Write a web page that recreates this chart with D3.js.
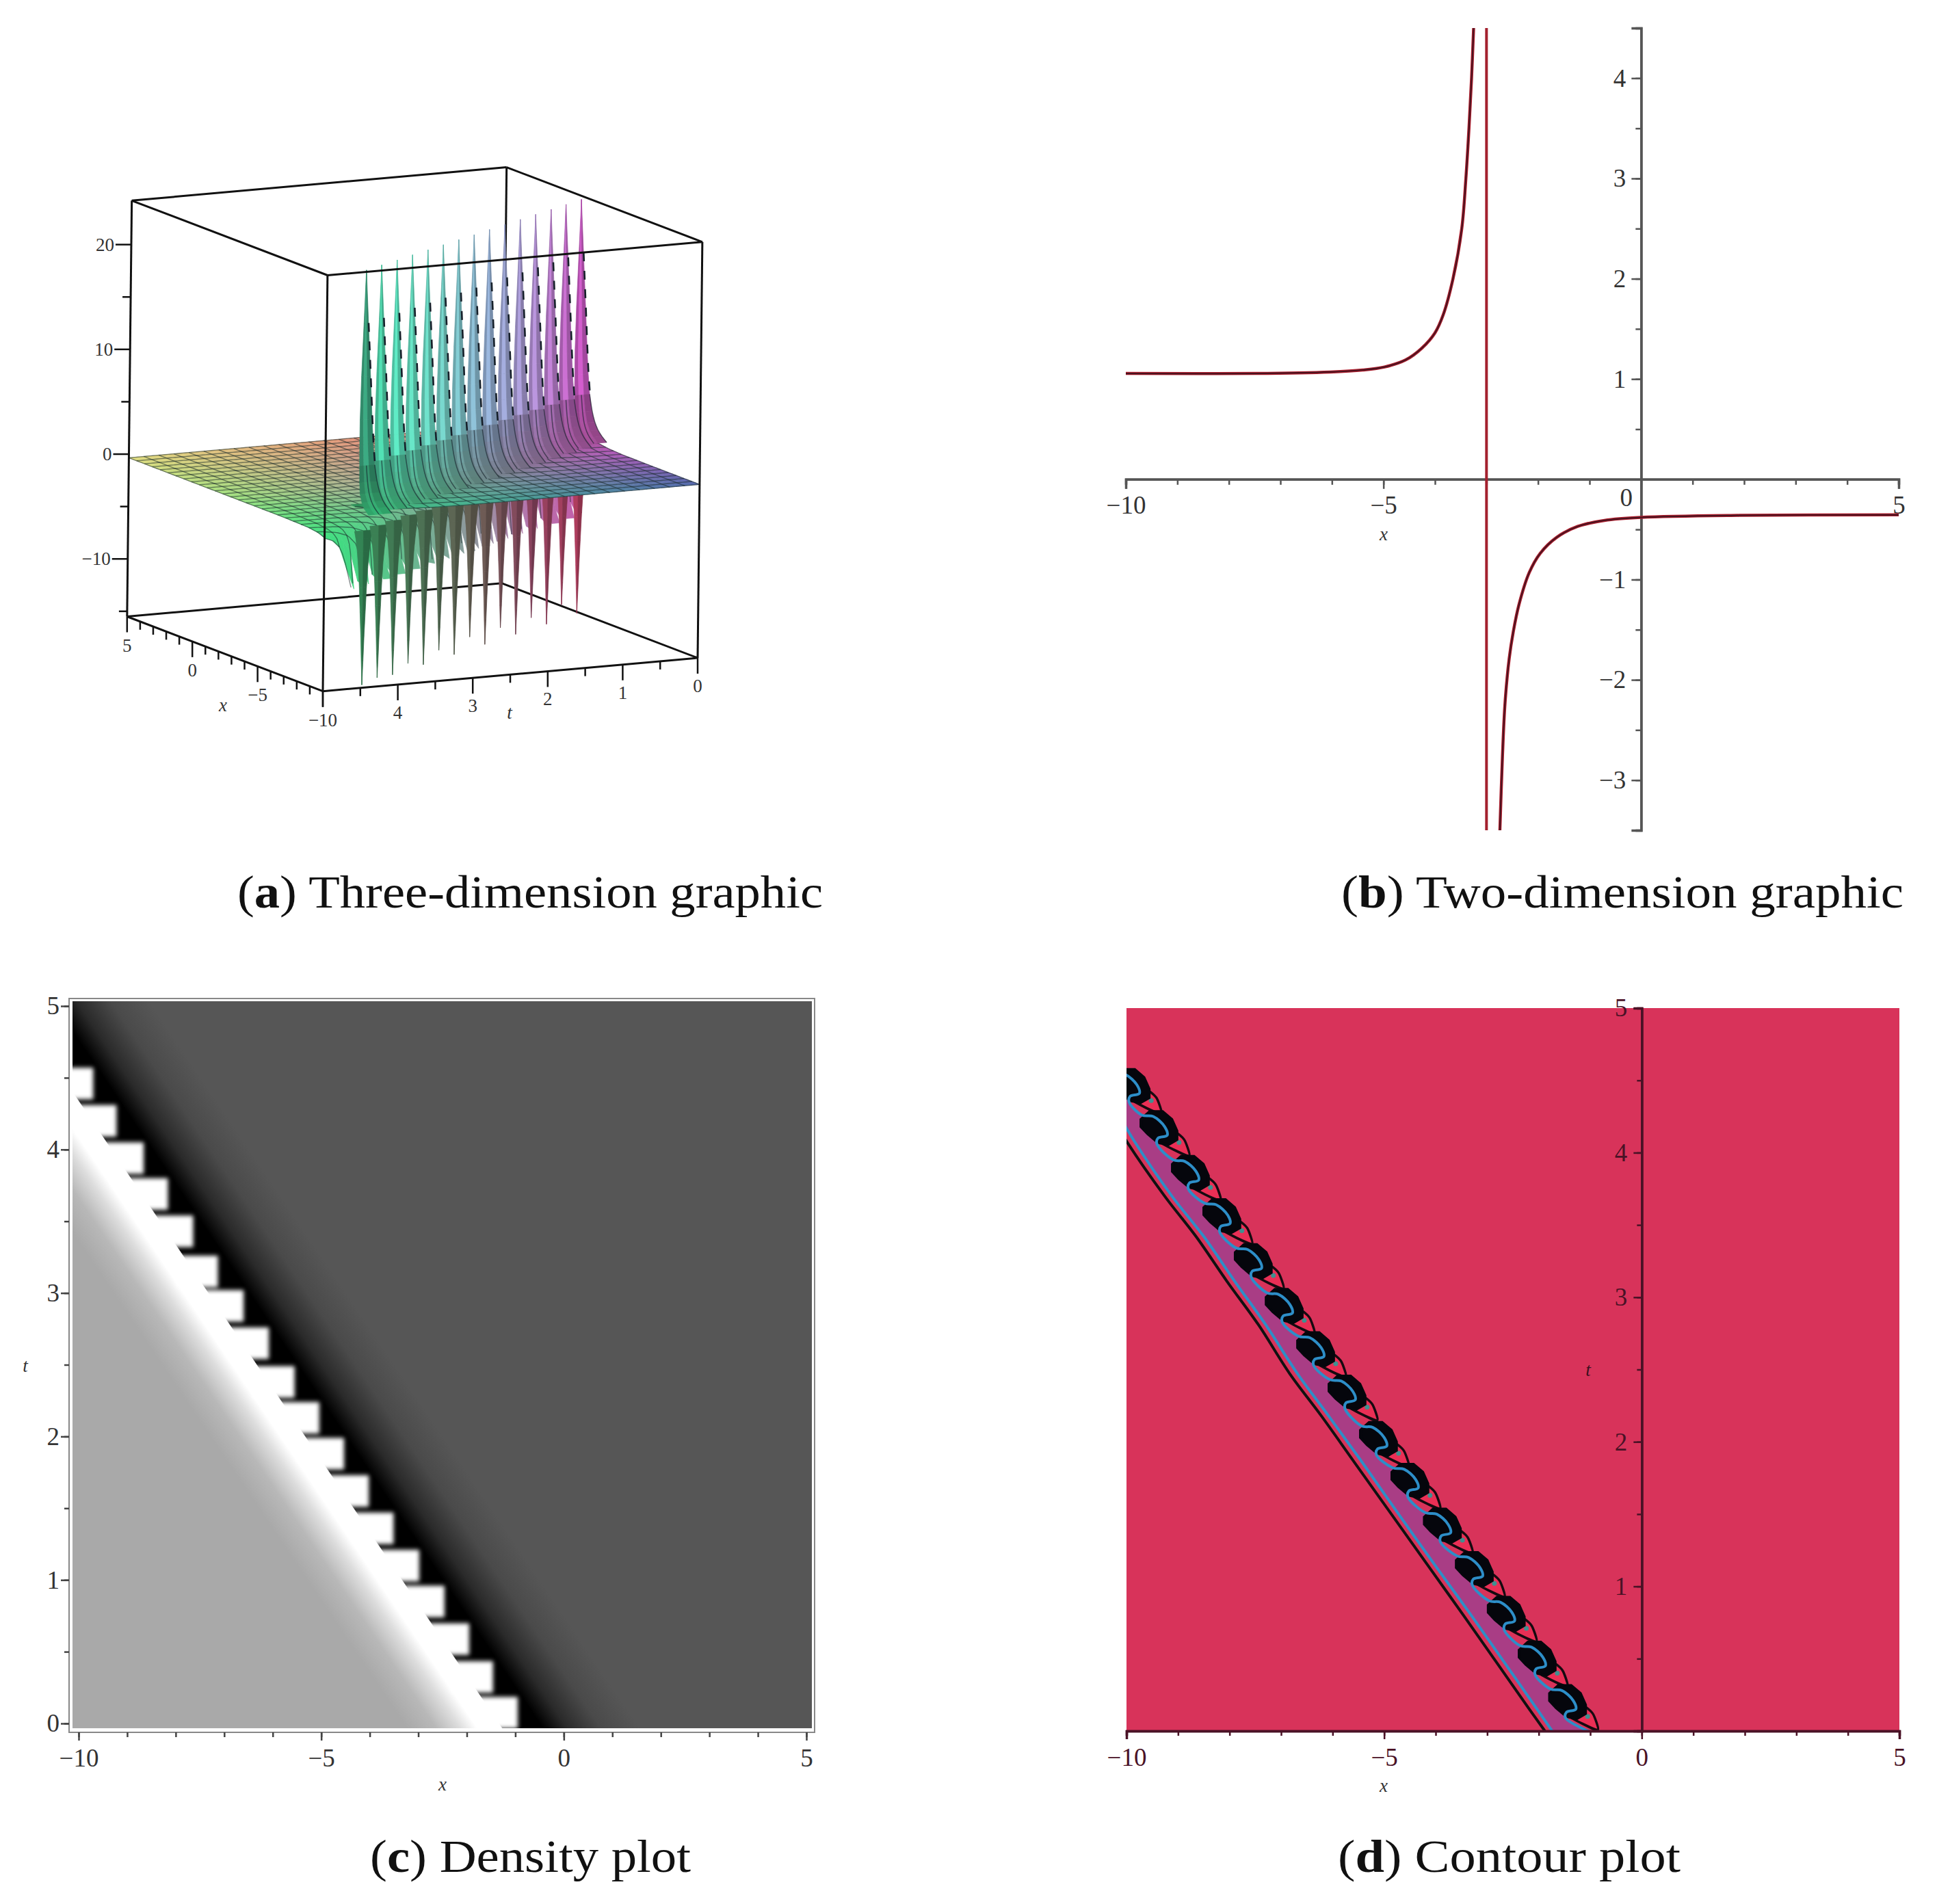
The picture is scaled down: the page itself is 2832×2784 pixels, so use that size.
<!DOCTYPE html>
<html>
<head>
<meta charset="utf-8">
<script src="https://cdn.jsdelivr.net/npm/d3@7"></script>
<style>
  html, body { margin: 0; background: #fff; }
  svg text { font-family: "Liberation Serif", serif; }
</style>
</head>
<body>
<svg id="fig" width="2832" height="2784"></svg>
<script>
const spikeT = [4.40, 4.09, 3.78, 3.47, 3.16, 2.85, 2.54, 2.23, 1.92, 1.61, 1.30, 0.99, 0.68, 0.38, 0.07];
const spikeX = [-9.54, -8.93, -8.33, -7.73, -7.13, -6.53, -5.93, -5.33, -4.72, -4.12, -3.52, -2.92, -2.32, -1.74, -1.14];
const spikeTop = [24.1, 24.1, 24.1, 24.1, 24.1, 24.1, 24.1, 24.1, 24.1, 24.1, 24.1, 24.1, 24.1, 24.1, 24.1];
const spikeBottom = [-15.5, -15.3, -15.5, -14.9, -15.5, -14.6, -15.5, -14.3, -15.5, -14.4, -15.5, -14.4, -15.5, -14.1, -15.4];
// sheet height on each side of the wave
const nearD = [0, 0.1, 0.2, 0.3, 0.5, 0.8, 1.2, 2, 3, 5, 15];
const nearZ = [1.9, 1.85, 1.8, 1.7, 1.6, 1.45, 1.3, 1.15, 1.08, 1.06, 1.06];
const farE = [0, 0.1, 0.2, 0.3, 0.5, 0.8, 1.2, 2, 4, 15];
const farZ = [-6, -4.5, -3, -2, -1.2, -0.8, -0.6, -0.45, -0.38, -0.35];
// ridge of a spike going down to the sheet
const ridgeD = [0, 0.03, 0.06, 0.1, 0.15, 0.22, 0.32, 0.45, 0.65, 0.9, 1.25];
const ridgeZ = [1, 0.79, 0.58, 0.41, 0.31, 0.23, 0.166, 0.124, 0.095, 0.075, 0.058];
const ridgeW = [0, 0.03, 0.06, 0.08, 0.09, 0.1, 0.115, 0.13, 0.14, 0.15, 0.155];
const dropF = [1, 0.85, 0.7, 0.55, 0.4, 0.28, 0.18, 0.1, 0.05];
const dropW = [0, 0.012, 0.022, 0.035, 0.048, 0.062, 0.08, 0.1, 0.12];

// panel b: curve on both sides of x = -3
const leftX = [-10, -7.49, -6.03, -5.40, -4.98, -4.57, -4.25, -4.0, -3.84, -3.65, -3.48, -3.40, -3.34, -3.29, -3.25];
const leftY = [1.055, 1.055, 1.07, 1.09, 1.12, 1.19, 1.31, 1.46, 1.64, 2, 2.5, 3, 3.5, 4, 4.5];
const rightX = [-2.74, -2.69, -2.64, -2.56, -2.48, -2.37, -2.17, -1.96, -1.64, -1.23, -0.71, 0, 1.9, 5];
const rightY = [-3.5, -2.76, -2.23, -1.79, -1.52, -1.25, -0.93, -0.74, -0.58, -0.47, -0.41, -0.38, -0.36, -0.355];
const asymptoteX = [-3];

// panel c: white steps of the density plot
const stepT = [0.075, 0.324, 0.588, 0.85, 1.10, 1.36, 1.62, 1.88, 2.13, 2.38, 2.65, 2.91, 3.15, 3.43, 3.69, 3.94, 4.20, 4.46];
const stepRight = [-0.95, -1.46, -1.95, -2.46, -2.98, -3.51, -4.02, -4.53, -5.04, -5.55, -6.08, -6.60, -7.13, -7.64, -8.16, -8.66, -9.22, -9.70];
const densityD = [-3, -2.5, -1.9, -1.4, -1.05, -0.55, -0.53, 0.3, 0.8, 1.5, 2.3, 3];
const densityGray = ['#a9a9a9', '#a9a9a9', '#b8b8b8', '#dddddd', '#ffffff', '#ffffff', '#000000', '#000000', '#2a2a2a', '#4a4a4a', '#565656', '#565656'];

// panel d: contour lines
const lowerT = [4.2, 4.08, 3.70, 3.42, 3.11, 2.81, 2.47, 2.18, 1.86, 1.5, 1.13, 0.8, 0.45, 0.15, 0];
const lowerBlackX = [-10.2, -10, -9.26, -8.65, -8.05, -7.44, -6.83, -6.22, -5.58, -4.86, -4.12, -3.46, -2.77, -2.18, -1.88];
const lowerBlueX = [-10.05, -9.85, -9.12, -8.50, -7.90, -7.30, -6.68, -6.08, -5.43, -4.72, -3.98, -3.31, -2.62, -2.03, -1.74];
const beadX = [-9.93, -9.39, -8.78, -8.17, -7.56, -6.96, -6.35, -5.74, -5.13, -4.52, -3.89, -3.27, -2.65, -2.05, -1.46];
const beadT = [4.47, 4.18, 3.87, 3.57, 3.26, 2.95, 2.65, 2.35, 2.03, 1.74, 1.43, 1.13, 0.82, 0.51, 0.21];
const blobDx = [-0.33, -0.16, 0.09, 0.27, 0.37, 0.37, 0.2, 0, -0.2, -0.33];
const blobDt = [0.05, 0.105, 0.105, 0.05, -0.03, -0.09, -0.125, -0.11, -0.05, 0];
const wiggleDx = [-0.31, -0.09, 0.13, 0.18, 0, -0.02];
const wiggleDt = [0.08, 0.07, 0, -0.06, -0.08, -0.12];
const petalDx = [0.29, 0.51, 0.61, 0.31, 0.04];
const petalDt = [-0.03, -0.09, -0.2, -0.16, -0.10];

const captions = [
  { tag: 'a', text: ' Three-dimension graphic', x: 347, y: 1327, w: 856 },
  { tag: 'b', text: ' Two-dimension graphic', x: 1961, y: 1327, w: 822 },
  { tag: 'c', text: ' Density plot', x: 541, y: 2737, w: 469 },
  { tag: 'd', text: ' Contour plot', x: 1956, y: 2737, w: 501 }
];

const svg = d3.select('#fig');
const fmt = d => d < 0 ? '\u2212' + (-d) : '' + d;
const steps = (a, b, s) => d3.range(a, b + s / 2, s);

function addAxis(maker, scale, at, majors, minors, o) {
  const g = svg.append('g').attr('transform', at);
  g.append('g').call(maker(scale).tickValues(minors).tickSize(o.minor).tickFormat(''));
  g.append('g').call(maker(scale).tickValues(majors).tickSize(o.major).tickPadding(o.pad).tickFormat(fmt));
  g.selectAll('.domain').attr('stroke', o.color).attr('stroke-width', o.domain || 0);
  g.selectAll('.tick line').attr('stroke', o.color).attr('stroke-width', 2.5);
  g.selectAll('text').attr('font-size', o.size).attr('fill', o.text || '#333').attr('font-family', 'Liberation Serif');
  return g;
}

function letter(x, y, s) {
  svg.append('text').attr('x', x).attr('y', y).attr('text-anchor', 'middle')
    .attr('font-size', 27).attr('font-style', 'italic').attr('fill', '#333').text(s);
}

// ---------- panel a ----------
const zMin = -15.5;
const xVec = [-19.08, -7.28], tVec = [-109.6, 9.74], zVec = [0.173, -15.32];
function proj(x, t, z) {
  return [
    1020 + (x + 10) * xVec[0] + t * tVec[0] + (z - zMin) * zVec[0],
    962 + (x + 10) * xVec[1] + t * tVec[1] + (z - zMin) * zVec[1]
  ];
}
const waveX = d3.scaleLinear().domain(spikeT).range(spikeX);
const nearHeight = d3.scaleLinear().domain(nearD).range(nearZ).clamp(true);
const farHeight = d3.scaleLinear().domain(farE).range(farZ).clamp(true);
const nearDark = d3.scaleLinear().domain([0, 0.5, 1.2, 2.2]).range([1.1, 0.8, 0.3, 0]).clamp(true);
const colorT0 = d3.scaleLinear().domain([-10, -3, 5]).range(['#5468ac', '#b858b8', '#e86878']);
const colorT5 = d3.scaleLinear().domain([-10, -3, 5]).range(['#40e080', '#a0e080', '#e0dc80']);
const sheetColor = (x, t) => d3.interpolateRgb(colorT0(x), colorT5(x))(t / 5);
const upColor = d3.scaleLinear().domain([0, 1, 2, 3, 4, 4.5])
  .range(['#c050b8', '#a888c8', '#88a8c8', '#68c8b8', '#50d8b0', '#2f8a68']);
const downColor = d3.scaleLinear().domain([0, 1, 2, 3, 4, 4.5])
  .range(['#a83a58', '#84405a', '#665850', '#4c6850', '#3a7850', '#2e7e50']);

const poly = d3.line();
function quad(g, pts, fill) {
  g.append('path').attr('d', poly(pts) + 'Z').attr('fill', fill).attr('stroke', fill).attr('stroke-width', 0.7);
}
const boxLine = (g, a, b) => g.append('path').attr('d', poly([proj(...a), proj(...b)]))
  .attr('stroke', '#111').attr('stroke-width', 3).attr('fill', 'none');

const zMax = 24.2;
const back = svg.append('g');
boxLine(back, [5, 5, zMax], [5, 0, zMax]);
boxLine(back, [5, 0, zMax], [-10, 0, zMax]);
boxLine(back, [5, 0, zMax], [5, 0, zMin]);
boxLine(back, [5, 5, zMin], [5, 0, zMin]);
boxLine(back, [5, 0, zMin], [-10, 0, zMin]);

// sheet height: side tells which part of the surface the vertex belongs to
function sheetZ(x, t, side) {
  const d = waveX(t) - x;
  return side > 0 ? nearHeight(Math.max(d, 0)) : farHeight(Math.max(-d, 0));
}
const meshX = steps(-10, 5, 15 / 25), meshT = steps(0, 5, 5 / 25);
const cellX = steps(-10, 5, 15 / 50), cellT = steps(0, 5, 5 / 50);
function drawSheet(side) {
  const g = svg.append('g');
  const cells = [];
  cellX.slice(0, -1).forEach((x, i) => cellT.slice(0, -1).forEach((t, j) => {
    const cx = x + 0.15, ct = t + 0.05;
    if ((waveX(ct) - cx > 0) === (side > 0)) cells.push({ x0: x, x1: cellX[i + 1], t0: t, t1: cellT[j + 1], cx, ct });
  }));
  cells.sort((a, b) => (a.cx * xVec[1] + a.ct * tVec[1]) - (b.cx * xVec[1] + b.ct * tVec[1]));
  cells.forEach(c => {
    let col = d3.color(sheetColor(c.cx, c.ct));
    if (side > 0) col = col.darker(nearDark(waveX(c.ct) - c.cx));
    quad(g, [[c.x0, c.t0], [c.x1, c.t0], [c.x1, c.t1], [c.x0, c.t1]].map(p => proj(p[0], p[1], sheetZ(p[0], p[1], side))), col.formatHex());
  });
  // mesh lines
  const path = d3.line();
  meshT.forEach(t => {
    const xs = steps(-10, 5, 0.1).filter(x => (waveX(t) - x >= 0) === (side > 0));
    if (xs.length > 1) g.append('path').attr('d', path(xs.map(x => proj(x, t, sheetZ(x, t, side)))))
      .attr('fill', 'none').attr('stroke', '#1a2a2a').attr('stroke-opacity', 0.55).attr('stroke-width', 1.4);
  });
  meshX.forEach(x => {
    const ts = steps(0, 5, 0.04).filter(t => (waveX(t) - x >= 0) === (side > 0));
    if (ts.length > 1) g.append('path').attr('d', path(ts.map(t => proj(x, t, sheetZ(x, t, side)))))
      .attr('fill', 'none').attr('stroke', '#1a2a2a').attr('stroke-opacity', 0.55).attr('stroke-width', 1.4);
  });
}

drawSheet(-1);

// downward needles
const downs = svg.append('g');
spikeT.forEach((t, i) => {
  const x = spikeX[i], tip = spikeBottom[i], col = d3.color(downColor(t));
  for (let k = 0; k < dropF.length - 1; k++) {
    const z0 = tip * dropF[k], z1 = tip * dropF[k + 1], w0 = dropW[k], w1 = dropW[k + 1];
    quad(downs, [proj(x, t + w0, z0), proj(x, t, z0), proj(x, t, z1), proj(x, t + w1, z1)], col.brighter(0.15).formatHex());
    quad(downs, [proj(x, t, z0), proj(x, t - w0, z0), proj(x, t - w1, z1), proj(x, t, z1)], col.darker(0.45).formatHex());
  }
});

drawSheet(1);

// upward needles, right to left so the nearest is on top
const ups = svg.append('g');
const lateral = [1, 0.45, -0.25, -1];
const lateralShade = [-0.3, 0.3, -0.45];
d3.range(spikeT.length - 1, -1, -1).forEach(i => {
  const t = spikeT[i], x = spikeX[i], top = spikeTop[i];
  const base = d3.color(upColor(t));
  for (let k = 0; k < ridgeD.length - 1; k++) {
    // toward the foot the ridge takes the colour of the sheet
    const blend = k >= 5 ? (k - 4) / 5.5 : 0;
    const mixed = d3.color(d3.interpolateRgb(base, sheetColor(x - ridgeD[k], t))(blend));
    const dark = k >= 5 ? 0.5 : 0;
    lateral.slice(0, -1).forEach((f, s) => {
      const a = lateral[s], b = lateral[s + 1];
      const pt = (n, m) => proj(x - ridgeD[n], t + ridgeW[n] * m, top * ridgeZ[n]);
      const c = lateralShade[s] * (1 - blend * 0.7) - dark;
      const col = c >= 0 ? mixed.brighter(c) : mixed.darker(-c);
      quad(ups, [pt(k, a), pt(k, b), pt(k + 1, b), pt(k + 1, a)], col.formatHex());
    });
  }
  // the dashed mesh line on the right flank, and the curved one at the foot
  const flank = d3.range(1, 6).map(n => proj(x - ridgeD[n], t - ridgeW[n] * 1.05, top * ridgeZ[n]));
  ups.append('path').attr('d', poly(flank)).attr('fill', 'none').attr('stroke', '#16202a')
    .attr('stroke-width', 2.6).attr('stroke-dasharray', '13 14');
  [-1, 0.1].forEach(m => {
    const foot = d3.range(5, ridgeD.length).map(n => proj(x - ridgeD[n], t + ridgeW[n] * m, top * ridgeZ[n]));
    ups.append('path').attr('d', d3.line().curve(d3.curveBasis)(foot)).attr('fill', 'none')
      .attr('stroke', '#16202a').attr('stroke-opacity', 0.6).attr('stroke-width', 1.5);
  });
});

const front = svg.append('g');
boxLine(front, [5, 5, zMax], [-10, 5, zMax]);
boxLine(front, [-10, 5, zMax], [-10, 0, zMax]);
boxLine(front, [5, 5, zMax], [5, 5, zMin]);
boxLine(front, [-10, 0, zMax], [-10, 0, zMin]);
boxLine(front, [-10, 5, zMax], [-10, 5, zMin]);
boxLine(front, [5, 5, zMin], [-10, 5, zMin]);
boxLine(front, [-10, 5, zMin], [-10, 0, zMin]);

// ticks of the box, all drawn through the projection
const tickG = svg.append('g').attr('stroke', '#111').attr('stroke-width', 2.5);
const labelA = (p, s, anchor) => svg.append('text').attr('x', p[0]).attr('y', p[1]).attr('font-size', 27)
  .attr('text-anchor', anchor || 'middle').attr('fill', '#333').text(s);
steps(-10, 5, 1).forEach(x => {
  const p = proj(x, 5, zMin), major = x % 5 === 0;
  tickG.append('line').attr('x1', p[0]).attr('y1', p[1]).attr('x2', p[0]).attr('y2', p[1] + (major ? 23 : 12));
  if (major) labelA([p[0], p[1] + 51], fmt(x));
});
steps(0, 5, 0.5).forEach(t => {
  const p = proj(-10, t, zMin), major = t % 1 === 0;
  tickG.append('line').attr('x1', p[0]).attr('y1', p[1]).attr('x2', p[0]).attr('y2', p[1] + (major ? 23 : 12));
  if (major && t < 5) labelA([p[0], p[1] + 50], fmt(t));
});
steps(-15, 20, 5).forEach(z => {
  const p = proj(5, 5, z), major = z % 10 === 0;
  tickG.append('line').attr('x1', p[0]).attr('y1', p[1]).attr('x2', p[0] - (major ? 23 : 12)).attr('y2', p[1]);
  if (major) labelA([p[0] - 25, p[1] + 9], fmt(z), 'end');
});
letter(326, 1040, 'x');
letter(745, 1051, 't');

// ---------- panel b ----------
const xB = d3.scaleLinear().domain([-10, 5]).range([1646, 2776]);
const yB = d3.scaleLinear().domain([-3.5, 4.5]).range([1214, 41]);
const styleB = { major: 14, minor: 8, pad: 8, color: '#555', domain: 3.5, size: 37 };
const xAxisB = addAxis(d3.axisBottom, xB, `translate(0,${yB(0)})`, [-10, -5, 0, 5], steps(-10, 5, 1), { ...styleB, pad: 10 });
xAxisB.selectAll('.tick text').filter(d => d === 0).attr('dx', -22).attr('dy', '0.4em');
addAxis(d3.axisLeft, yB, `translate(${xB(0)},0)`, [-3, -2, -1, 1, 2, 3, 4], steps(-3.5, 4.5, 0.5), styleB);
letter(2023, 790, 'x');

svg.selectAll('.asym').data(asymptoteX).enter().append('line').attr('class', 'asym')
  .attr('x1', d => xB(d)).attr('x2', d => xB(d)).attr('y1', yB(4.5)).attr('y2', yB(-3.5))
  .attr('stroke', '#a3202e').attr('stroke-width', 4);
const lineB = d3.line().x(d => xB(d[0])).y(d => yB(d[1])).curve(d3.curveCatmullRom.alpha(0.5));
[d3.zip(leftX, leftY), d3.zip(rightX, rightY)].forEach(pts => {
  svg.append('path').datum(pts).attr('d', lineB).attr('fill', 'none')
    .attr('stroke', '#b0202f').attr('stroke-width', 4.5);
  svg.append('path').datum(pts).attr('d', lineB).attr('fill', 'none')
    .attr('stroke', '#4a1420').attr('stroke-width', 2.2);
});

// ---------- panel c ----------
const xC = d3.scaleLinear().domain([-10, 5]).range([115, 1179]);
const tC = d3.scaleLinear().domain([0, 5]).range([2520, 1471]);
const frameC = { x0: 101, x1: 1191, y0: 1460, y1: 2533 };
const plotC = { x0: 106, x1: 1187, y0: 1464, y1: 2527 };
const defs = svg.append('defs');
defs.append('clipPath').attr('id', 'clipC').append('rect')
  .attr('x', plotC.x0).attr('y', plotC.y0).attr('width', plotC.x1 - plotC.x0).attr('height', plotC.y1 - plotC.y0);
defs.append('filter').attr('id', 'soft').attr('x', '-20%').attr('y', '-20%').attr('width', '140%').attr('height', '140%')
  .append('feGaussianBlur').attr('stdDeviation', 3);

// the wave in panel c runs along the right edges of the steps
const wavePx = t => xC(d3.scaleLinear().domain(stepT).range(stepRight)(t));
const p0 = [wavePx(0), tC(0)], p1 = [wavePx(4.46), tC(4.46)];
const along = [p1[0] - p0[0], p1[1] - p0[1]];
const len = Math.hypot(along[0], along[1]);
const normal = [-along[1] / len, along[0] / len];
const flip = normal[0] > 0 ? 1 : -1;
const unit = (xC(1) - xC(0)) * Math.abs(normal[0]);
const gradStart = [p0[0] - 3 * unit * normal[0] * flip, p0[1] - 3 * unit * normal[1] * flip];
const gradEnd = [p0[0] + 3 * unit * normal[0] * flip, p0[1] + 3 * unit * normal[1] * flip];
const grad = defs.append('linearGradient').attr('id', 'densityFill').attr('gradientUnits', 'userSpaceOnUse')
  .attr('x1', gradStart[0]).attr('y1', gradStart[1]).attr('x2', gradEnd[0]).attr('y2', gradEnd[1]);
densityD.forEach((d, i) => grad.append('stop').attr('offset', (d + 3) / 6).attr('stop-color', densityGray[i]));

svg.append('rect').attr('x', frameC.x0).attr('y', frameC.y0).attr('width', frameC.x1 - frameC.x0)
  .attr('height', frameC.y1 - frameC.y0).attr('fill', '#fff').attr('stroke', '#888').attr('stroke-width', 2);
const plateC = svg.append('g').attr('clip-path', 'url(#clipC)');
plateC.append('rect').attr('x', plotC.x0).attr('y', plotC.y0).attr('width', plotC.x1 - plotC.x0)
  .attr('height', plotC.y1 - plotC.y0).attr('fill', 'url(#densityFill)');
plateC.append('g').attr('filter', 'url(#soft)').selectAll('rect').data(d3.zip(stepT, stepRight)).enter().append('rect')
  .attr('x', d => xC(d[1] - 0.85)).attr('width', d => xC(d[1]) - xC(d[1] - 0.85))
  .attr('y', d => tC(d[0] + 0.11)).attr('height', d => tC(d[0] - 0.11) - tC(d[0] + 0.11))
  .attr('fill', '#fff');

addAxis(d3.axisBottom, xC, `translate(0,${frameC.y1})`, [-10, -5, 0, 5], steps(-10, 5, 1), { major: 12, minor: 7, pad: 12, color: '#444', size: 37 });
addAxis(d3.axisLeft, tC, `translate(${frameC.x0},0)`, [0, 1, 2, 3, 4, 5], steps(0, 5, 0.5), { major: 12, minor: 7, pad: 2, color: '#444', size: 37 });
letter(647, 2618, 'x');
letter(37, 2006, 't');

// ---------- panel d ----------
const xD = d3.scaleLinear().domain([-10, 5]).range([1647, 2777]);
const tD = d3.scaleLinear().domain([0, 5]).range([2531, 1474]);
defs.append('clipPath').attr('id', 'clipD').append('rect')
  .attr('x', xD(-10)).attr('y', tD(5)).attr('width', xD(5) - xD(-10)).attr('height', tD(0) - tD(5));
svg.append('rect').attr('x', xD(-10)).attr('y', tD(5)).attr('width', xD(5) - xD(-10)).attr('height', tD(0) - tD(5)).attr('fill', '#d8335a');
const plateD = svg.append('g').attr('clip-path', 'url(#clipD)');
const lineD = d3.line().x(d => xD(d[0])).y(d => tD(d[1]));
const smoothD = d3.line().x(d => xD(d[0])).y(d => tD(d[1])).curve(d3.curveCatmullRom.alpha(0.5));
const petalD = d3.line().x(d => xD(d[0])).y(d => tD(d[1])).curve(d3.curveCardinalClosed.tension(0.4));

const upperBlue = [];
beadX.forEach((bx, i) => wiggleDx.forEach((dx, k) => upperBlue.push([bx + dx, beadT[i] + wiggleDt[k]])));
upperBlue.push([-0.92, -0.02]);
const lowerBlue = d3.zip(lowerBlueX, lowerT);
const lowerBlack = d3.zip(lowerBlackX, lowerT);

plateD.append('path').datum([...upperBlue, ...lowerBlue.slice().reverse()]).attr('d', lineD).attr('fill', '#a93d85');
plateD.append('path').datum(lowerBlack).attr('d', smoothD).attr('fill', 'none').attr('stroke', '#111').attr('stroke-width', 4);
plateD.append('path').datum(lowerBlue).attr('d', smoothD).attr('fill', 'none').attr('stroke', '#2d8ec8').attr('stroke-width', 4);

beadX.forEach((bx, i) => {
  const bt = beadT[i];
  plateD.append('path').datum(d3.zip(petalDx, petalDt).map(p => [bx + p[0], bt + p[1]]))
    .attr('d', petalD).attr('fill', '#ea2f55').attr('stroke', '#160a10').attr('stroke-width', 3.5);
  plateD.append('path').datum([[bx + 0.09, bt - 0.12], [bx + 0.58, bt - 0.21]])
    .attr('d', lineD).attr('stroke', '#160a10').attr('stroke-width', 3).attr('fill', 'none');
  plateD.append('circle').attr('cx', xD(bx + 0.41)).attr('cy', tD(bt - 0.11)).attr('r', 3.5).attr('fill', '#3f9090');
  plateD.append('path').datum(d3.zip(blobDx, blobDt).map(p => [bx + p[0], bt + p[1]]))
    .attr('d', d => lineD(d) + 'Z').attr('fill', '#05060c').attr('stroke', '#05060c').attr('stroke-width', 4);
});
plateD.append('path').datum(upperBlue).attr('d', smoothD).attr('fill', 'none').attr('stroke', '#2d8ec8').attr('stroke-width', 4);

const onRed = { major: 12, minor: 7, color: '#4a1226', size: 37, text: '#4a1226', domain: 3.5 };
addAxis(d3.axisBottom, xD, `translate(0,${tD(0)})`, [-10, -5, 0, 5], steps(-10, 5, 1), { ...onRed, pad: 13 });
addAxis(d3.axisLeft, tD, `translate(${xD(0)},0)`, [1, 2, 3, 4, 5], steps(0, 5, 0.5), { ...onRed, pad: 9 });
letter(2023, 2620, 'x');
svg.append('text').attr('x', 2322).attr('y', 2012).attr('text-anchor', 'middle').attr('font-size', 27)
  .attr('font-style', 'italic').attr('fill', '#3d1020').text('t');

// ---------- captions ----------
captions.forEach(c => {
  const el = svg.append('text').attr('x', c.x).attr('y', c.y).attr('font-size', 68).attr('fill', '#111')
    .attr('textLength', c.w).attr('lengthAdjust', 'spacingAndGlyphs');
  el.append('tspan').text('(');
  el.append('tspan').attr('font-weight', 'bold').text(c.tag);
  el.append('tspan').text(')' + c.text);
});
</script>
</body>
</html>
